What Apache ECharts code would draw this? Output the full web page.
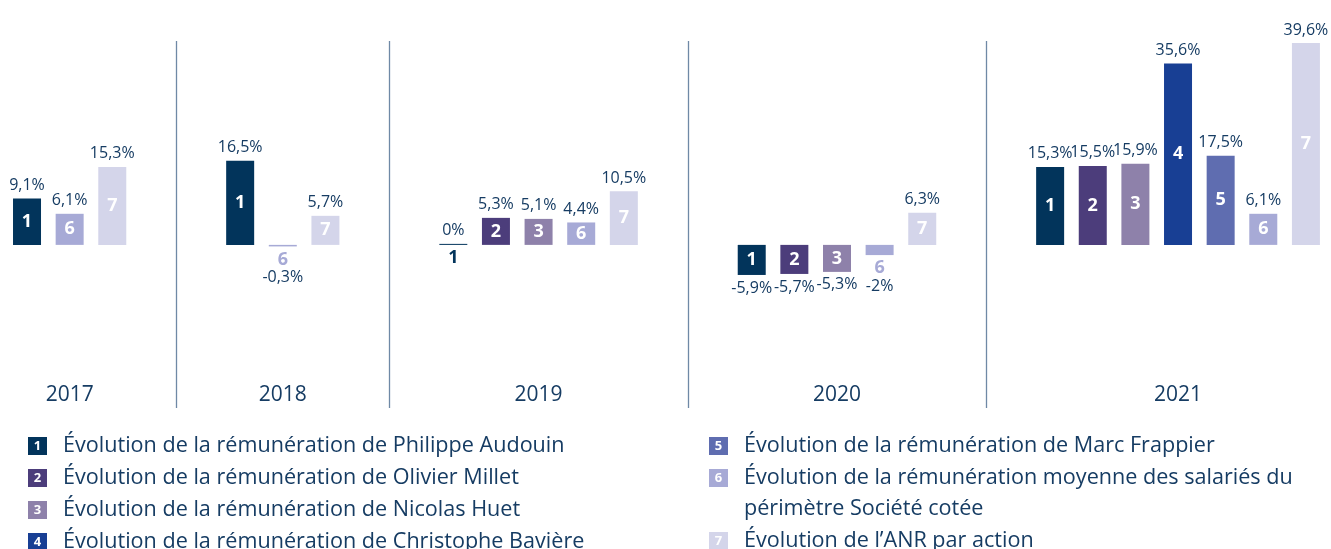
<!DOCTYPE html>
<html lang="fr">
<head>
<meta charset="utf-8">
<title>Évolution des rémunérations et de l'ANR par action</title>
<script src="https://cdn.jsdelivr.net/npm/echarts@6/dist/echarts.min.js"></script>
<style>
  html, body { margin: 0; padding: 0; background: #ffffff; }
  #chart { width: 1331px; height: 549px; }
</style>
</head>
<body>
<div id="chart"></div>
<script>
// Years shown along the bottom of the chart
const years = ['2017', '2018', '2019', '2020', '2021'];

// Numbered items of the legend
const itemNumbers = ['1', '2', '3', '4', '5', '6', '7'];
const itemNames = [
  'Évolution de la rémunération de Philippe Audouin',
  'Évolution de la rémunération de Olivier Millet',
  'Évolution de la rémunération de Nicolas Huet',
  'Évolution de la rémunération de Christophe Bavière',
  'Évolution de la rémunération de Marc Frappier',
  'Évolution de la rémunération moyenne des salariés du\npérimètre Société cotée',
  'Évolution de l’ANR par action'
];
const itemColors = ['#02345b', '#4c3d7b', '#8e81aa', '#183f94', '#5f6db0', '#a7aad6', '#d4d5ea'];

// Year-on-year change in %, one value per year (null = not reported)
const audouin   = [9.1, 16.5, 0, -5.9, 15.3];
const millet    = [null, null, 5.3, -5.7, 15.5];
const huet      = [null, null, 5.1, -5.3, 15.9];
const baviere   = [null, null, null, null, 35.6];
const frappier  = [null, null, null, null, 17.5];
const salaries  = [6.1, -0.3, 4.4, -2, 6.1];
const anr       = [15.3, 5.7, 10.5, 6.3, 39.6];

const itemValues = [audouin, millet, huet, baviere, frappier, salaries, anr];

const TEXT = '#163c63';
const FONT = '"Open Sans", "DejaVu Sans", sans-serif';
const GAP_SLOTS = 2;

// Each reported bar gets its own slot; years are separated by empty slots.
const slotLabels = [];
const slotSeries = itemValues.map(() => []);
const separatorSlots = [];
years.forEach((year, yi) => {
  if (yi > 0) {
    for (let g = 0; g < GAP_SLOTS; g++) {
      slotLabels.push('');
      slotSeries.forEach(s => s.push(null));
    }
    // boundary in the middle of the gap, in slot units
    separatorSlots.push(slotLabels.length - GAP_SLOTS / 2);
  }
  const present = itemValues.map((vals, si) => vals[yi] !== null ? si : -1).filter(si => si >= 0);
  const start = slotLabels.length;
  present.forEach(si => {
    slotLabels.push('');
    slotSeries.forEach((s, k) => s.push(k === si ? itemValues[si][yi] : null));
  });
  slotLabels[start + Math.floor((present.length - 1) / 2)] = year;
});

const fmt = v => String(v).replace('.', ',') + '%';
const isSmall = v => Math.abs(v) < 3;

// Coloured bars with their value label
const barSeries = itemNames.map((name, si) => ({
  name: name,
  type: 'bar',
  barWidth: 28,
  barGap: '-100%',
  barMinHeight: 1,
  itemStyle: { color: itemColors[si] },
  label: {
    show: true,
    position: 'outside',
    distance: 5,
    color: TEXT,
    fontFamily: FONT,
    fontSize: 16,
    formatter: p => fmt(p.value)
  },
  data: slotSeries[si].map(v => {
    if (v === null) return null;
    if (v < 0 && isSmall(v)) return { value: v, label: { offset: [0, 18] } };
    return v;
  })
}));

// Item number drawn on each bar (below the bar when it is too short)
const numberSeries = itemNames.map((name, si) => ({
  name: 'n' + itemNumbers[si],
  type: 'bar',
  barWidth: 28,
  barGap: '-100%',
  silent: true,
  itemStyle: { color: 'rgba(0,0,0,0)' },
  label: {
    show: true,
    position: 'inside',
    color: '#ffffff',
    fontFamily: FONT,
    fontWeight: 'bold',
    fontSize: 18,
    formatter: () => itemNumbers[si]
  },
  data: slotSeries[si].map(v => {
    if (v === null) return null;
    if (isSmall(v)) return { value: v, label: { position: 'bottom', distance: 4, color: itemColors[si] } };
    return v;
  })
}));

// Vertical rules between the years, placed on a hidden slot-unit axis
const separatorSeries = {
  name: 'separators',
  type: 'line',
  xAxisIndex: 1,
  data: [],
  silent: true,
  markLine: {
    silent: true,
    symbol: 'none',
    label: { show: false },
    lineStyle: { color: '#6f89a6', width: 1.3, type: 'solid' },
    data: separatorSlots.map(s => ({ xAxis: s }))
  }
};

// Legend entries: numbered square followed by the description
const rich = { g: { width: 16 }, g2: { width: 35 }, t: { fontFamily: FONT, fontSize: 21.6, color: TEXT, lineHeight: 31 } };
itemNumbers.forEach((n, si) => {
  rich['b' + n] = {
    backgroundColor: itemColors[si], color: '#ffffff', fontFamily: FONT, fontWeight: 'bold',
    fontSize: 13, width: 19, height: 18, lineHeight: 18, align: 'center'
  };
});
const legendText = name => {
  const si = itemNames.indexOf(name);
  const lines = name.split('\n');
  return '{b' + itemNumbers[si] + '|' + itemNumbers[si] + '}{g|}{t|' + lines[0] + '}' +
    lines.slice(1).map(l => '\n{g2|}{t|' + l + '}').join('');
};
const legendBase = {
  orient: 'vertical',
  icon: 'none',
  itemWidth: 0,
  itemHeight: 18,
  itemGap: 10,
  height: 140,
  selectedMode: false,
  padding: 0,
  formatter: legendText,
  textStyle: { rich: rich, fontFamily: FONT, fontSize: 21.6, color: TEXT }
};

const SLOT_W = 42.63;
const chart = echarts.init(document.getElementById('chart'), null, { renderer: 'canvas' });
chart.setOption({
  animation: false,
  backgroundColor: '#ffffff',
  grid: { left: 5.7, width: SLOT_W * slotLabels.length, top: 41, bottom: 141, containLabel: false },
  xAxis: [
    {
      type: 'category',
      data: slotLabels,
      boundaryGap: true,
      axisLine: { show: false },
      axisTick: { show: false },
      splitLine: { show: false },
      axisLabel: {
        inside: true,
        interval: 0,
        margin: 2,
        color: TEXT,
        fontFamily: FONT,
        fontSize: 21
      }
    },
    {
      type: 'value',
      min: 0,
      max: slotLabels.length,
      show: false,
      splitLine: { show: false }
    }
  ],
  yAxis: {
    type: 'value',
    min: -32,
    max: 40,
    show: false,
    splitLine: { show: false }
  },
  legend: [
    Object.assign({}, legendBase, { left: 23, top: 435, data: itemNames.slice(0, 4) }),
    Object.assign({}, legendBase, { left: 704, top: 435, data: itemNames.slice(4) })
  ],
  series: barSeries.concat(numberSeries, [separatorSeries])
});
</script>
</body>
</html>
